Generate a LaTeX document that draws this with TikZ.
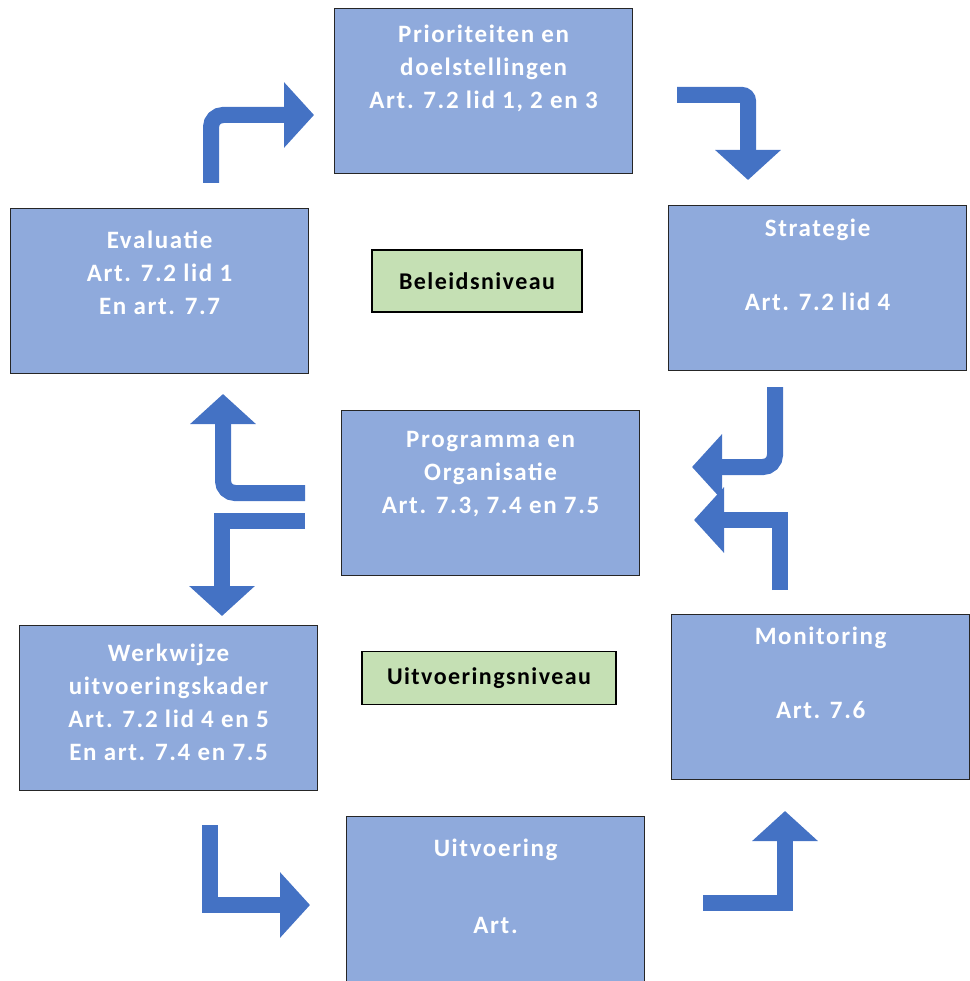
\documentclass[tikz,border=0pt]{standalone}
\usepackage{fontspec}
\setmainfont{Carlito}
\usetikzlibrary{arrows.meta}
\definecolor{boxblue}{HTML}{8FAADC}
\definecolor{levelgreen}{HTML}{C5E0B4}
\definecolor{arrowblue}{HTML}{4472C4}
\newcommand{\boxfont}{\fontsize{25}{33}\bfseries\addfontfeatures{LetterSpace=6.5}}
\newcommand{\levelfont}{\fontsize{24}{28}\bfseries\addfontfeatures{LetterSpace=6}}

\begin{document}
\begin{tikzpicture}[x=1pt, y=-1pt,
    box/.style={draw=black!85, line width=1.2pt, fill=boxblue, text=white,
      inner sep=0pt, anchor=north west, font=\boxfont,
      execute at begin node={\begin{minipage}[t][165pt][t]{298pt}\centering\vspace*{#1}},
      execute at end node={\end{minipage}}},
    box/.default=14pt,
    level/.style={draw=black, line width=1.5pt, fill=levelgreen, inner sep=0pt,
      font=\levelfont},
    flow/.style={arrowblue, line width=16pt, -{Triangle[width=64pt,length=30pt]}}]
  \useasboundingbox (0,0) rectangle (969,981);

  % boxes
  \node (prio)  [box=16pt] at (334,8)   {Prioriteiten en\\ doelstellingen\\ Art. 7.2 lid 1, 2 en 3};
  \node (strat) [box=13pt] at (668,205) {Strategie\\[41pt] Art. 7.2 lid 4};
  \node (eval)  [box=22pt] at (10,208)  {Evaluatie\\ Art. 7.2 lid 1\\ En art. 7.7};
  \node (prog)  [box=21pt] at (341,410) {Programma en\\ Organisatie\\ Art. 7.3, 7.4 en 7.5};
  \node (werk)  [box=18pt] at (19,625)  {Werkwijze\\ uitvoeringskader\\ Art. 7.2 lid 4 en 5\\ En art. 7.4 en 7.5};
  \node (mon)   [box=12pt] at (671,614) {Monitoring\\[41pt] Art. 7.6};
  \node (uitv)  [box=22pt] at (346,816) {Uitvoering\\[44pt] Art.};

  \node (beleid) [level, minimum width=210pt, minimum height=62pt] at (477,281) {Beleidsniveau};
  \node (uitvn)  [level, minimum width=254pt, minimum height=53pt] at (489,678) {Uitvoeringsniveau};

  % arrow ends
  \coordinate (e1) at (211,183); \coordinate (p1) at (314,115);
  \coordinate (p2s) at (677,95);  \coordinate (s2) at (748,180);
  \coordinate (s3) at (775,387);  \coordinate (p3) at (692,467);
  \coordinate (m4) at (780,590);  \coordinate (p4) at (694,520);
  \coordinate (p5) at (305,493);  \coordinate (e5) at (223,394);
  \coordinate (p6) at (305,521);  \coordinate (w6) at (222,616);
  \coordinate (w7) at (210,825);  \coordinate (u7) at (310,905);
  \coordinate (u8) at (703,903);  \coordinate (m8) at (785,811);

  \draw[flow, rounded corners=12pt] (e1) |- (p1);
  \draw[flow, rounded corners=6pt] (p2s) -| (s2);
  \draw[flow, rounded corners=12pt] (s3) |- (p3);
  \draw[flow] (m4) |- (p4);
  \draw[flow, rounded corners=12pt] (p5) -| (e5);
  \draw[flow] (p6) -| (w6);
  \draw[flow] (w7) |- (u7);
  \draw[flow] (u8) -| (m8);
\end{tikzpicture}
\end{document}
